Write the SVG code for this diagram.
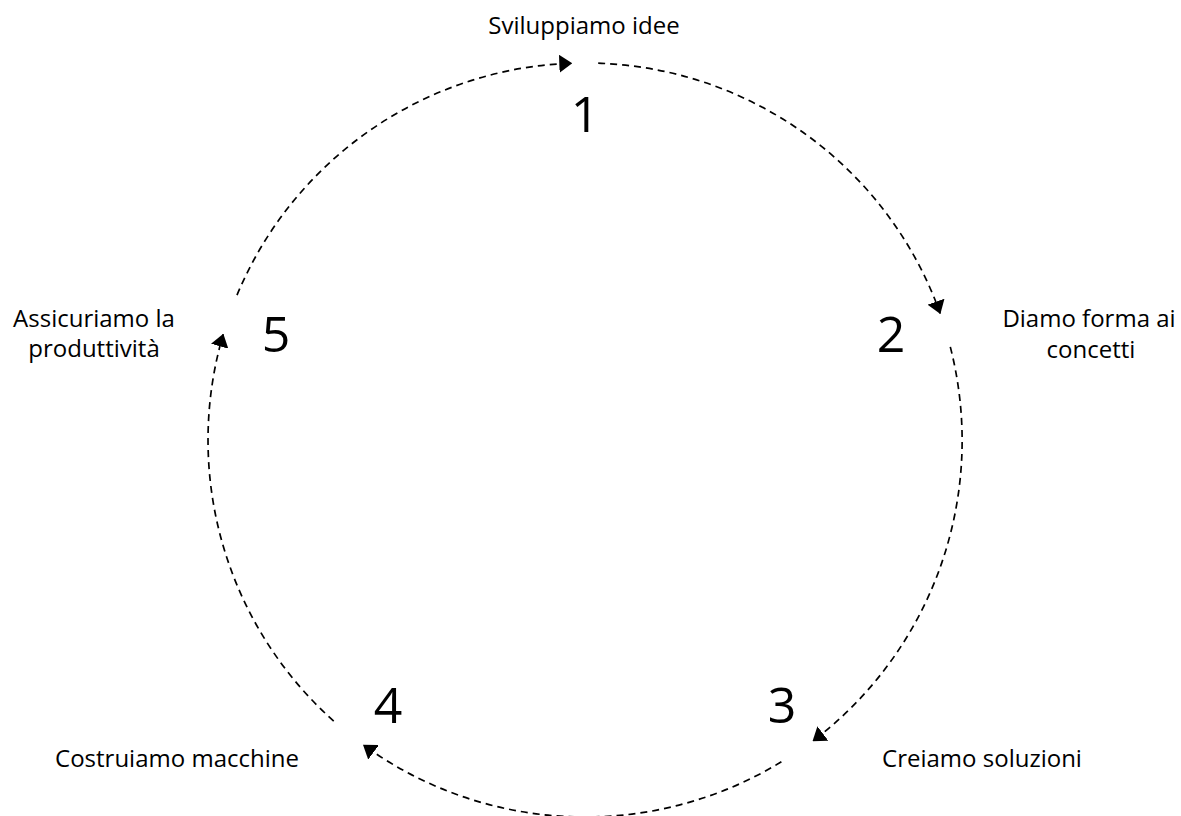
<svg xmlns="http://www.w3.org/2000/svg" width="1181" height="816" viewBox="0 0 1181 816">
<defs>
<style>
.lbl{font-family:"Open Sans","Liberation Sans",sans-serif;font-size:24px;fill:#000;text-anchor:middle}
.num{font-family:"Open Sans","Liberation Sans",sans-serif;font-size:50px;fill:#000;text-anchor:middle}
.arc{fill:none;stroke:#000;stroke-width:1.7;stroke-dasharray:7 5}
</style>
<marker id="ah" viewBox="0 0 13 18" refX="12.5" refY="9" markerWidth="13" markerHeight="18" markerUnits="userSpaceOnUse" orient="auto">
<path d="M0,0 L13,9 L0,18 z" fill="#000"/>
</marker>
</defs>
<rect width="1181" height="816" fill="#fff"/>
<g id="connectors">
<path class="arc" marker-end="url(#ah)" d="M237,295.1 A377,377 0 0 1 571.8,63.2"/>
<path class="arc" marker-end="url(#ah)" d="M598.2,63.2 A377,377 0 0 1 940.2,313.5"/>
<path class="arc" marker-end="url(#ah)" d="M950.3,346.9 A377,377 0 0 1 812.9,741"/>
<path class="arc" marker-end="url(#ah)" d="M781.4,761.8 A377,377 0 0 1 363.4,745"/>
<path class="arc" marker-end="url(#ah)" d="M333.7,721.1 A377,377 0 0 1 223.2,334.2"/>
</g>
<g id="node1"><text class="num" x="585" y="132">1</text><text class="lbl" x="584" y="34">Sviluppiamo idee</text></g>
<g id="node2"><text class="num" x="891" y="352">2</text><text class="lbl" x="1089" y="327">Diamo forma ai</text><text class="lbl" x="1091" y="358">concetti</text></g>
<g id="node3"><text class="num" x="782" y="723">3</text><text class="lbl" x="982" y="767">Creiamo soluzioni</text></g>
<g id="node4"><text class="num" x="388" y="723">4</text><text class="lbl" x="177" y="767">Costruiamo macchine</text></g>
<g id="node5"><text class="num" x="276" y="352">5</text><text class="lbl" x="94" y="327">Assicuriamo la</text><text class="lbl" x="94" y="357">produttività</text></g>
</svg>
